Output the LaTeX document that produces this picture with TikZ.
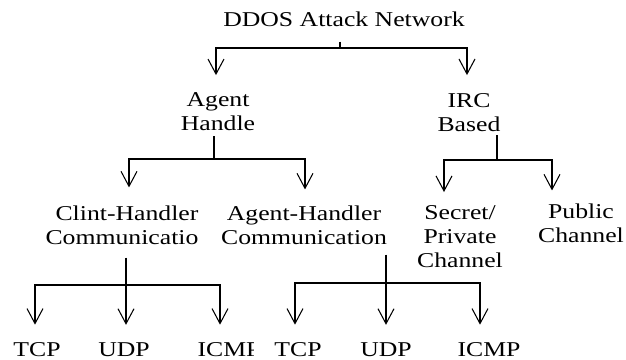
\documentclass[tikz,border=0pt]{standalone}
\usepackage{fontspec}
\setmainfont[FakeStretch=1.22]{Liberation Serif}
\usetikzlibrary{arrows.meta}

\begin{document}
\begin{tikzpicture}[
        entry/.style={
            anchor=base, align=center, inner sep=0pt,
            font=\fontsize{12}{13.7}\selectfont
        },
        link/.style={black, line width=0.6pt},
        branch/.style={
            link, shorten >=#1,
            -{Straight Barb[length=0.3cm, width=0.32cm, line width=0.6pt]}
        },
        branch/.default=0.34cm
    ]
    \useasboundingbox (0,0) rectangle (12.52,-7.2);

    % --- Top ---
    \node[entry] (ddos) at (6.88,-0.54) {DDOS Attack Network};

    % --- Second row (placed on the last line) ---
    \node[entry] (agh) at (4.36,-2.61) {Agent\\Handle};
    \node[entry] (irc) at (9.38,-2.63) {IRC\\Based};

    % --- Third row ---
    \node[entry, align=right] (chc) at (2.44,-4.90) {Clint-Handler\\Communicatio};
    \node[entry] (ahc) at (6.08,-4.90) {Agent-Handler\\Communication};
    \node[entry] (spc) at (9.20,-5.36) {Secret/\\Private\\Channel};
    \node[entry] (pub) at (11.62,-4.86) {Public\\Channel};

    % --- Protocols ---
    \node[entry] (tcpa) at (0.74,-7.14) {TCP};
    \node[entry] (udpa) at (2.48,-7.14) {UDP};
    \begin{scope}
        \clip (3.5,-6.5) rectangle (5.06,-7.2);
        \node[entry] (icmpa) at (4.58,-7.14) {ICMP};
    \end{scope}
    \node[entry] (tcpb) at (5.96,-7.14) {TCP};
    \node[entry] (udpb) at (7.72,-7.14) {UDP};
    \node[entry] (icmpb) at (9.78,-7.14) {ICMP};

    % --- Bars ---
    \coordinate (bar0) at (6.80,-0.96);
    \coordinate (bar1) at (4.28,-3.18);
    \coordinate (bar2) at (9.94,-3.20);
    \coordinate (bar3) at (2.52,-5.70);
    \coordinate (bar4) at (7.72,-5.66);

    % --- Connectors ---
    \draw[link, shorten <=0.28cm] (ddos.south -| bar0) -- (bar0);
    \draw[branch] (bar0) -| ([xshift=-0.04cm]agh.north);
    \draw[branch=0.36cm] (bar0) -| ([xshift=-0.04cm]irc.north);

    \draw[link, shorten <=0.1cm] (agh.south -| bar1) -- (bar1);
    \draw[branch=0.37cm] (bar1) -| ([xshift=0.14cm]chc.north);
    \draw[branch=0.33cm] (bar1) -| ([xshift=0.02cm]ahc.north);

    \draw[link, shorten <=0.06cm] (irc.south -| bar2) -- (bar2);
    \draw[branch=0.27cm] (bar2) -| ([xshift=-0.32cm]spc.north);
    \draw[branch=0.27cm] (bar2) -| ([xshift=-0.58cm]pub.north);

    \draw[link, shorten <=0.24cm] (chc.south -| bar3) -- (bar3);
    \draw[branch=0.36cm] (bar3) -| ([xshift=-0.04cm]tcpa.north);
    \draw[branch=0.36cm] (bar3) -| ([xshift=0.04cm]udpa.north);
    \draw[branch=0.36cm] (bar3) -| ([xshift=-0.18cm]icmpa.north);

    \draw[link, shorten <=0.18cm] (ahc.south -| bar4) -- (bar4);
    \draw[branch=0.36cm] (bar4) -| ([xshift=-0.06cm]tcpb.north);
    \draw[branch=0.36cm] (bar4) -- (udpb.north);
    \draw[branch=0.36cm] (bar4) -| ([xshift=-0.18cm]icmpb.north);

\end{tikzpicture}
\end{document}
